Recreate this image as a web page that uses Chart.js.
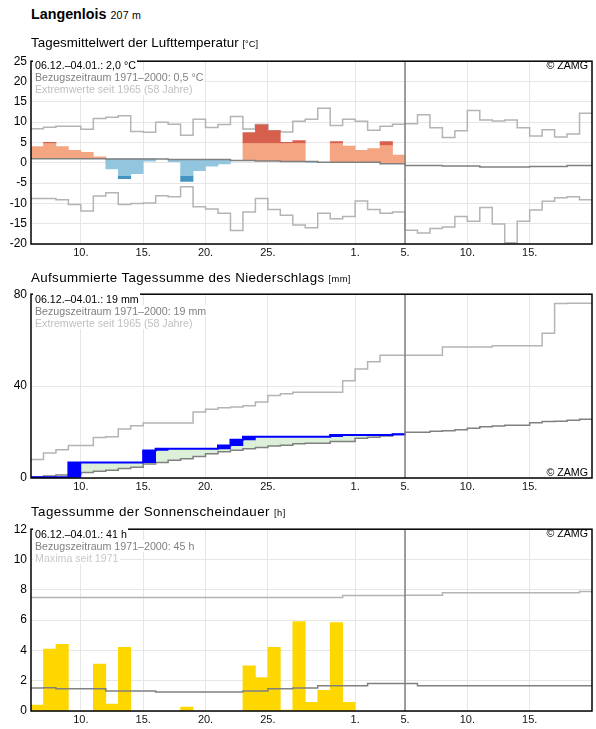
<!DOCTYPE html>
<html>
<head>
<meta charset="utf-8">
<script src="https://cdn.jsdelivr.net/npm/chart.js@4.4.1/dist/chart.umd.min.js"></script>
<style>
  body { margin:0; width:596px; height:729px; position:relative; background:#fff; overflow:hidden;
         font-family:"Liberation Sans", Arial, sans-serif; color:#000; }
  canvas { position:absolute; left:0; z-index:1; }
  .t { position:absolute; z-index:2; white-space:nowrap; }
  .h { font-size:13.33px; line-height:13.33px; left:31px; }
  .h small { font-size:9.33px; }
  .a { font-size:10.67px; line-height:12px; left:33px; }
  .a div { background:#fff; padding:0 1px 0 2px; width:fit-content; }
  .z { font-size:10.67px; line-height:12px; right:8px; }
</style>
</head>
<body>
<div class="t" style="left:31px;top:7px;font-size:14.3px;line-height:14px;font-weight:bold">Langenlois <span style="font-size:10.67px;font-weight:normal;letter-spacing:0.2px">207 m</span></div>

<div class="t h" style="top:35.7px;letter-spacing:0.05px">Tagesmittelwert der Lufttemperatur <small>[°C]</small></div>
<canvas id="c1" width="596" height="210" style="top:50px"></canvas>
<div class="t a" style="top:59px">
  <div style="color:#000">06.12.–04.01.: 2,0 °C</div>
  <div style="color:#808080">Bezugszeitraum 1971–2000: 0,5 °C</div>
  <div style="color:#c0c0c0">Extremwerte seit 1965 (58 Jahre)</div>
</div>
<div class="t z" style="top:59px">© ZAMG</div>

<div class="t h" style="top:270.6px;letter-spacing:0.37px">Aufsummierte Tagessumme des Niederschlags <small>[mm]</small></div>
<canvas id="c2" width="596" height="211" style="top:283px"></canvas>
<div class="t a" style="top:293px">
  <div style="color:#000">06.12.–04.01.: 19 mm</div>
  <div style="color:#808080">Bezugszeitraum 1971–2000: 19 mm</div>
  <div style="color:#c0c0c0">Extremwerte seit 1965 (58 Jahre)</div>
</div>
<div class="t z" style="top:465.5px">© ZAMG</div>

<div class="t h" style="top:505.4px;letter-spacing:0.45px">Tagessumme der Sonnenscheindauer <small>[h]</small></div>
<canvas id="c3" width="596" height="209" style="top:518px"></canvas>
<div class="t a" style="top:527.5px">
  <div style="color:#000">06.12.–04.01.: 41 h</div>
  <div style="color:#808080">Bezugszeitraum 1971–2000: 45 h</div>
  <div style="color:#c8c8c8">Maxima seit 1971</div>
</div>
<div class="t z" style="top:527px">© ZAMG</div>

<script>
// ---------- axis: days from 06.12. (index 0) to 19.01. (index 44) ----------
const dayCount = 45;
const todayIndex = 30;           // start of 05.01.
const dayTicks = [4, 9, 14, 19, 26, 30, 35, 40];
const dayTickLabels = ['10.', '15.', '20.', '25.', '1.', '5.', '10.', '15.'];

// ---------- temperature (°C) ----------
const tempValue = [4.0, 5.0, 4.0, 3.05, 2.55, 1.45, -1.5, -3.9, -2.7, 0.4,
                   0.95, 0.25, -4.6, -1.95, -0.82, -0.26, 0.55, 7.4, 9.35, 7.9,
                   5.05, 5.45, 0.1, 0.1, 5.2, 4.1, 3.05, 3.5, 5.2, 1.9];
const tempLight = [4.0, 4.75, 4.0, 3.05, 2.55, 1.45, -1.5, -3.2, -2.7, 0.4,
                   0.95, 0.25, -3.2, -1.95, -0.82, -0.26, 0.55, 4.75, 4.75, 4.75,
                   4.75, 4.75, 0.1, 0.1, 4.75, 4.1, 3.05, 3.5, 4.25, 1.9];
const tempNormal = [1.0, 1.0, 1.0, 1.0, 1.0, 1.0, 0.95, 0.95, 0.95, 0.95,
                    0.95, 0.8, 0.8, 0.8, 0.8, 0.8, 0.55, 0.55, 0.45, 0.45,
                    0.3, 0.3, 0.3, 0.1, 0.1, 0.1, 0.1, 0.1, -0.25, -0.25,
                    -0.65, -0.65, -0.65, -0.8, -0.8, -0.8, -1.05, -1.05, -1.05, -1.05,
                    -0.9, -0.9, -0.9, -0.65, -0.65];
const tempMax = [8.35, 8.75, 9.0, 9.0, 8.27, 10.9, 11.2, 11.6, 7.7, 7.5,
                 10.0, 9.5, 6.75, 10.7, 8.7, 9.4, 11.4, 8.3, 9.4, 7.9,
                 7.55, 10.2, 10.7, 13.4, 9.2, 10.7, 10.2, 8.0, 9.0, 9.5,
                 9.6, 11.8, 8.6, 6.2, 7.9, 12.85, 10.5, 10.3, 10.5, 8.6,
                 6.6, 8.1, 6.35, 7.1, 12.2];
const tempMin = [-8.8, -8.8, -9.1, -10.3, -11.9, -8.2, -7.4, -10.3, -10.0, -9.9,
                 -8.1, -8.35, -5.9, -10.8, -11.4, -12.4, -16.7, -12.1, -8.8, -11.5,
                 -12.9, -15.3, -16.0, -12.4, -13.8, -13.2, -9.4, -11.5, -12.45, -12.1,
                 -16.6, -17.3, -16.2, -15.8, -13.2, -14.4, -11.0, -15.1, -19.7, -14.4,
                 -11.6, -9.5, -8.6, -8.35, -9.1];

// ---------- precipitation, cumulative (mm) ----------
const precipCum = [0.3, 0.3, 0.3, 6.7, 6.7, 6.7, 6.7, 6.7, 6.7, 12.0,
                   12.7, 12.7, 12.7, 12.7, 12.7, 14.1, 16.6, 18.0, 18.0, 18.0,
                   18.0, 18.0, 18.0, 18.0, 18.7, 18.7, 18.7, 18.7, 18.7, 19.0];
const precipNormal = [0.4, 0.85, 1.3, 1.6, 2.4, 2.9, 3.4, 4.1, 4.7, 6.1,
                      6.7, 7.7, 8.4, 9.4, 10.6, 11.4, 12.1, 12.7, 13.3, 13.9,
                      14.3, 14.9, 15.1, 15.1, 15.9, 15.9, 17.3, 17.7, 18.3, 19.0,
                      19.9, 19.9, 20.3, 20.6, 21.0, 21.7, 22.3, 22.6, 23.0, 23.0,
                      24.1, 24.6, 24.7, 25.1, 25.6];
const precipMax = [8.0, 10.9, 12.3, 14.1, 14.1, 17.6, 18.0, 21.3, 22.7, 23.9,
                   23.9, 23.9, 23.9, 28.7, 29.9, 30.6, 30.9, 31.4, 33.1, 35.9,
                   36.7, 37.3, 37.3, 37.3, 37.3, 42.3, 47.4, 50.6, 53.4, 53.4,
                   53.4, 53.4, 53.4, 57.0, 57.0, 57.0, 57.0, 57.6, 57.6, 57.6,
                   57.6, 63.0, 75.9, 76.1, 76.1];

// ---------- sunshine (h) ----------
const sunHours = [0.39, 4.08, 4.4, 0, 0, 3.1, 0.45, 4.2, 0, 0,
                  0, 0, 0.26, 0, 0, 0, 0, 2.98, 2.2, 4.2,
                  0.06, 5.9, 0.58, 1.36, 5.83, 0.58, 0, 0, 0, 0];
const sunNormal = [1.51, 1.53, 1.47, 1.47, 1.47, 1.47, 1.32, 1.32, 1.32, 1.32,
                   1.25, 1.25, 1.25, 1.25, 1.25, 1.25, 1.25, 1.32, 1.32, 1.47,
                   1.47, 1.51, 1.51, 1.66, 1.66, 1.66, 1.66, 1.81, 1.81, 1.81,
                   1.81, 1.66, 1.66, 1.66, 1.66, 1.66, 1.66, 1.66, 1.66, 1.66,
                   1.66, 1.66, 1.66, 1.66, 1.66];
const sunMax = [7.49, 7.49, 7.49, 7.49, 7.49, 7.49, 7.49, 7.49, 7.49, 7.49,
                7.49, 7.49, 7.49, 7.49, 7.49, 7.49, 7.49, 7.49, 7.49, 7.49,
                7.49, 7.49, 7.49, 7.49, 7.49, 7.62, 7.62, 7.62, 7.62, 7.62,
                7.64, 7.64, 7.64, 7.81, 7.81, 7.81, 7.81, 7.81, 7.81, 7.81,
                7.81, 7.81, 7.81, 7.81, 7.88];

// ---------- helpers ----------
const FONT = '"Liberation Sans", Arial, sans-serif';
function stepPts(arr) {
  const p = arr.map((v, i) => ({x: i, y: v}));
  p.push({x: arr.length, y: arr[arr.length - 1]});
  return p;
}
function floatBars(lo, hi) {
  return hi.map((v, i) => ({x: i + 0.5, y: [lo[i], v]})).filter(p => p.y[0] !== p.y[1]);
}
const framePlugin = {
  id: 'frame',
  afterDatasetsDraw(chart) {
    const {ctx, chartArea: a, scales: {x}} = chart;
    ctx.save();
    const xm = x.getPixelForValue(todayIndex);
    ctx.strokeStyle = '#808080'; ctx.lineWidth = 1.5;
    ctx.beginPath(); ctx.moveTo(xm, a.top); ctx.lineTo(xm, a.bottom); ctx.stroke();
    ctx.strokeStyle = '#000'; ctx.lineWidth = 1.5;
    ctx.strokeRect(a.left, a.top, a.right - a.left, a.bottom - a.top);
    ctx.restore();
  }
};
function lineDs(data, color, width, order, extra) {
  return Object.assign({type: 'line', data: stepPts(data), borderColor: color, borderWidth: width,
    pointRadius: 0, stepped: true, fill: false, order: order}, extra || {});
}
function barDs(data, color, order) {
  return {type: 'bar', data: data, backgroundColor: color, borderWidth: 0, order: order,
    barPercentage: 1, categoryPercentage: 1, grouped: false};
}
function makeChart(id, datasets, yMin, yMax, yStep) {
  return new Chart(document.getElementById(id), {
    type: 'line',
    data: {datasets: datasets},
    plugins: [framePlugin],
    options: {
      responsive: false, animation: false, events: [],
      layout: {padding: {left: 0, right: 4, top: 8, bottom: 0}},
      plugins: {legend: {display: false}, tooltip: {enabled: false},
                filler: {drawTime: 'beforeDatasetsDraw'}},
      scales: {
        x: {type: 'linear', min: 0, max: dayCount, offset: false,
            grid: {color: '#e6e6e6', lineWidth: 1, drawTicks: false, offset: false},
            border: {display: false},
            afterBuildTicks: s => { s.ticks = dayTicks.map(v => ({value: v})); },
            afterFit: s => { s.height = 16; },
            ticks: {autoSkip: false, maxRotation: 0, padding: 2, color: '#111',
                    font: {family: FONT, size: 11},
                    callback: (v, i) => dayTickLabels[i]}},
        y: {min: yMin, max: yMax,
            grid: {color: '#e6e6e6', lineWidth: 1, drawTicks: false},
            border: {display: false},
            afterFit: s => { s.width = 31; },
            ticks: {stepSize: yStep, padding: 4, color: '#000', font: {family: FONT, size: 12}}}
      }
    }
  });
}

// ---------- panel 1: temperature ----------
makeChart('c1', [
  lineDs(tempNormal, '#808080', 1.5, 1),
  barDs(floatBars(tempNormal.slice(0, tempValue.length), tempLight),
        c => c.raw && c.raw.y[1] >= c.raw.y[0] ? '#f4a582' : '#92c5de', 2),
  barDs(floatBars(tempLight, tempValue),
        c => c.raw && c.raw.y[1] >= c.raw.y[0] ? '#d6604d' : '#4393c3', 2),
  lineDs(tempMax, '#b4b4b4', 1.5, 3),
  lineDs(tempMin, '#b4b4b4', 1.5, 3)
], -20, 25, 5);

// ---------- panel 2: precipitation ----------
makeChart('c2', [
  lineDs(precipNormal, '#808080', 1.5, 2),
  lineDs(precipMax, '#b4b4b4', 1.5, 3),
  lineDs(precipCum, '#0000ff', 2, 1,
         {fill: {target: 0, above: '#dcefd8', below: 'rgba(0,0,0,0)'}}),
  barDs(floatBars([0].concat(precipCum.slice(0, -1)), precipCum), '#0000ff', 0)
], 0, 80, 40);

// ---------- panel 3: sunshine ----------
makeChart('c3', [
  lineDs(sunNormal, '#808080', 1.5, 1),
  lineDs(sunMax, '#b4b4b4', 1.5, 1),
  barDs(floatBars(sunHours.map(() => 0), sunHours), '#ffd700', 2)
], 0, 12, 2);
</script>
</body>
</html>
